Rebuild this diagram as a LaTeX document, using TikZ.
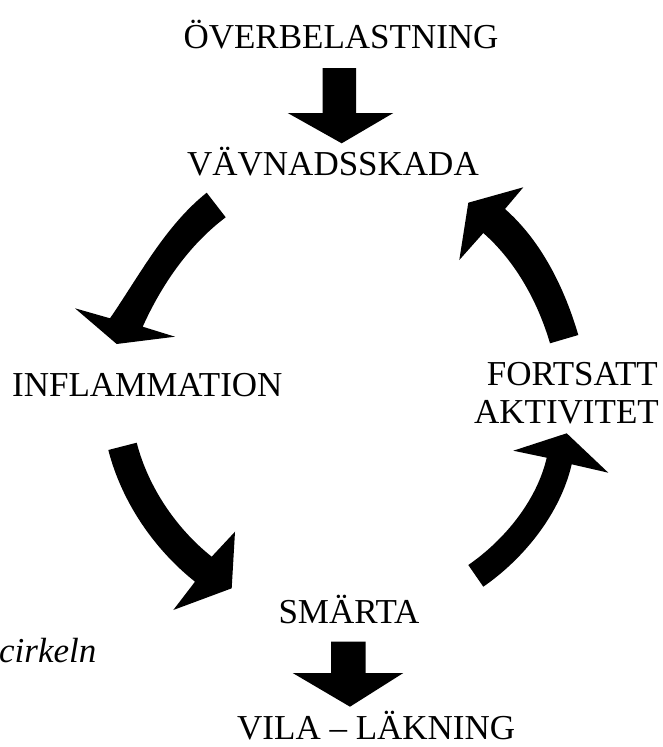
\documentclass[tikz,border=0pt]{standalone}
\usepackage{fontspec}
\setmainfont{Liberation Serif}
\begin{document}
\begin{tikzpicture}[x=1pt,y=-1pt,
  lbl/.style={font=\fontsize{35}{40}\selectfont, inner sep=0pt},
  blk/.style={fill=black, draw=none}]
\useasboundingbox (0,0) rectangle (662,747);
\fill[white] (0,0) rectangle (662,747);
% labels
\node[lbl, anchor=base] (over) at (341,48) {ÖVERBELASTNING};
\node[lbl, anchor=base] (vav) at (333,175) {VÄVNADSSKADA};
\node[lbl, anchor=base west] (infl) at (12,396) {INFLAMMATION};
\node[lbl, anchor=base east] (fort) at (658,385) {FORTSATT};
\node[lbl, anchor=base east] (akt) at (659,423) {AKTIVITET};
\node[lbl, anchor=base] (smarta) at (349,623) {SMÄRTA};
\node[lbl, anchor=base west] (vila) at (237,739) {VILA – LÄKNING};
\node[lbl, anchor=base west, font=\fontsize{35}{40}\selectfont\itshape] (cirk) at (-1,662) {cirkeln};
% straight arrows
\fill[blk] (322.7,68) -- (356,68) -- (356,113) -- (393.3,113) -- (341.7,143.3) -- (287.7,113) -- (322.7,113) -- cycle;
\fill[blk] (331,641.7) -- (365.7,641.7) -- (365.7,673) -- (403.3,673) -- (350,706.7) -- (292.7,673) -- (331,673) -- cycle;
% curved arrows
\fill[blk] (206.7,192.7) .. controls (165.3,225.8) and (140,274.6) .. (110,318.3) -- (75,308.3) -- (116.7,344) -- (175,336.7) -- (142.7,326.7) .. controls (161.6,284.8) and (188.9,245) .. (225.7,217.3) -- cycle;
\fill[blk] (108.3,450) .. controls (121.5,501.3) and (153.5,548.7) .. (195,581.7) -- (173.3,610) -- (231.7,588.3) -- (235,531.7) -- (211.7,556.7) .. controls (176.1,528.4) and (148,486.7) .. (136.7,442.7) -- cycle;
\fill[blk] (468.3,565) .. controls (504.5,540) and (536.8,500.6) .. (546.7,457.7) -- (513.3,450.7) -- (566.7,433.3) -- (608.3,472.7) -- (571.7,464.3) .. controls (560.4,513) and (524.5,558.2) .. (483.3,586.7) -- cycle;
\fill[blk] (578.3,335) .. controls (564.6,288.3) and (541.5,241.1) .. (505,209) -- (523.3,187.3) -- (468.3,202.7) -- (459.3,260) -- (483.3,233) .. controls (515.6,261.4) and (537.9,302) .. (550,343.3) -- cycle;
\end{tikzpicture}
\end{document}
